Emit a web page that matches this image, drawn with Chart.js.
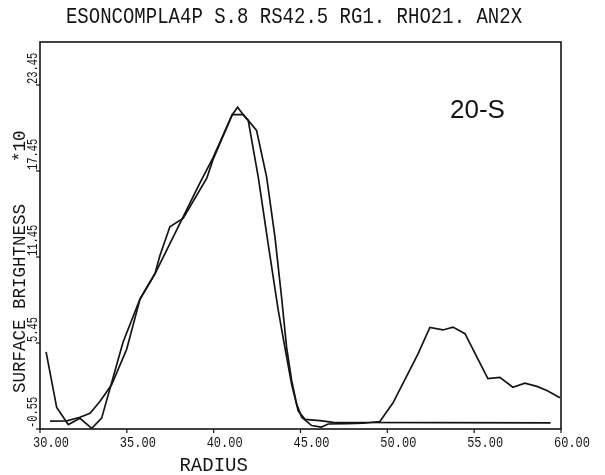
<!DOCTYPE html>
<html>
<head>
<meta charset="utf-8">
<script src="https://cdn.jsdelivr.net/npm/chart.js@4.4.0/dist/chart.umd.min.js"></script>
<style>
  html, body { margin: 0; padding: 0; background: #fff; }
  #wrap { width: 605px; height: 475px; }
</style>
</head>
<body>
<div id="wrap"><canvas id="c" width="605" height="475"></canvas></div>
<script>
// observed profile (jagged line)
var dataRadius = [30.35, 30.96, 31.63, 32.30, 32.98, 33.55, 34.78, 35.76, 36.62, 36.91, 37.48, 38.25,
    39.61, 39.96, 41.07, 41.38, 41.70, 41.99, 42.47, 43.05, 43.53, 43.91, 44.20, 44.49, 44.78, 45.07,
    45.64, 46.20, 46.60, 47.66, 48.60, 49.57, 50.32, 51.76, 52.45, 53.20, 53.78, 54.47, 55.79, 56.48,
    57.23, 57.92, 58.61, 59.19, 59.94];
var dataBright = [4.83, 0.95, -0.24, 0.20, -0.50, 0.21, 5.50, 8.52, 10.28, 11.57, 13.56, 14.16,
    16.97, 18.24, 21.38, 21.90, 21.38, 20.98, 20.28, 17.02, 12.83, 8.64, 5.14, 2.84, 1.19, 0.27,
    -0.31, -0.42, -0.20, -0.18, -0.15, -0.03, 1.26, 4.68, 6.54, 6.36, 6.56, 6.10, 2.97, 3.05,
    2.36, 2.65, 2.42, 2.13, 1.63];

// fitted model (smooth line, runs out flat to the right)
var modelRadius = [30.58, 31.54, 32.30, 32.88, 33.45, 34.13, 34.99, 35.76, 36.62, 39.21, 39.96, 41.07,
    41.70, 41.99, 42.57, 43.14, 43.72, 44.10, 44.49, 44.87, 45.26, 46.12, 46.87, 59.40];
var modelBright = [0.00, 0.02, 0.27, 0.55, 1.37, 2.55, 5.01, 8.52, 10.28, 16.62, 18.37, 21.38,
    21.38, 20.98, 17.01, 12.35, 7.72, 5.14, 2.56, 0.70, 0.12, 0.04, -0.09, -0.12];

var xTicks = [30, 35, 40, 45, 50, 55, 60];
var yTicks = [-0.55, 5.45, 11.45, 17.45, 23.45];

function pts(xs, ys) {
    return xs.map(function (v, i) { return {x: v, y: ys[i]}; });
}

var INK = '#141414';
var MONO = '"Liberation Mono", monospace';

function txt(ctx, s, x, y, font, o) {
    o = o || {};
    ctx.save();
    ctx.translate(x, y);
    if (o.rot) ctx.rotate(o.rot);
    ctx.scale(o.sx || 1, o.sy || 1);
    ctx.font = font;
    ctx.textAlign = o.align || 'left';
    ctx.textBaseline = 'alphabetic';
    ctx.fillStyle = INK;
    ctx.fillText(s, 0, 0);
    ctx.restore();
}

var decor = {
    id: 'decor',
    afterDraw: function (chart) {
        var ctx = chart.ctx, a = chart.chartArea;
        var xs = chart.scales.x, ys = chart.scales.y;
        ctx.save();
        ctx.strokeStyle = INK;
        ctx.lineWidth = 1.6;
        ctx.strokeRect(a.left, a.top, a.right - a.left, a.bottom - a.top);
        ctx.lineWidth = 1.2;
        xTicks.forEach(function (v) {
            var px = xs.getPixelForValue(v);
            ctx.beginPath();
            ctx.moveTo(px, a.bottom);
            ctx.lineTo(px, a.bottom + 4);
            ctx.stroke();
            txt(ctx, v.toFixed(2), px - 7, 447, '12px ' + MONO, {sy: 1.25});
        });
        yTicks.forEach(function (v) {
            var py = ys.getPixelForValue(v);
            ctx.beginPath();
            ctx.moveTo(a.left - 4, py);
            ctx.lineTo(a.left, py);
            ctx.stroke();
            // rotated, starts at the tick and reads upwards
            txt(ctx, v.toFixed(2), 37, py - 1, '14.5px ' + MONO, {rot: -Math.PI / 2, sx: 0.72});
        });
        ctx.restore();

        txt(ctx, 'ESONCOMPLA4P S.8 RS42.5 RG1. RHO21. AN2X', 294, 23, '19px ' + MONO, {align: 'center', sy: 1.15});
        txt(ctx, 'RADIUS', xs.getPixelForValue(40), 471, '19px ' + MONO, {align: 'center', sy: 1.1});
        txt(ctx, 'SURFACE BRIGHTNESS    *10', 25, 393, '17.5px ' + MONO, {rot: -Math.PI / 2, sy: 1.1});
        txt(ctx, '20-S', 450, 118, '26px "Liberation Sans", sans-serif');
    }
};

var ctx = document.getElementById('c').getContext('2d');
var chart = new Chart(ctx, {
    type: 'scatter',
    data: {
        datasets: [{
            label: 'observed',
            data: pts(dataRadius, dataBright),
            showLine: true,
            borderColor: INK,
            borderWidth: 1.7,
            pointRadius: 0,
            tension: 0
        }, {
            label: 'model',
            data: pts(modelRadius, modelBright),
            showLine: true,
            borderColor: INK,
            borderWidth: 1.7,
            pointRadius: 0,
            tension: 0
        }]
    },
    options: {
        responsive: false,
        animation: false,
        devicePixelRatio: 1,
        layout: {padding: {left: 40, right: 44, top: 42, bottom: 46}},
        plugins: {legend: {display: false}, title: {display: false}, tooltip: {enabled: false}},
        scales: {
            x: {
                type: 'linear', min: 30, max: 60,
                grid: {display: false, drawTicks: false},
                border: {display: false},
                ticks: {display: false},
                afterFit: function (s) { s.height = 0; }
            },
            y: {
                type: 'linear', min: -0.55, max: 26.45,
                grid: {display: false, drawTicks: false},
                border: {display: false},
                ticks: {display: false},
                afterBuildTicks: function (s) { s.ticks = yTicks.map(function (v) { return {value: v}; }); },
                afterFit: function (s) { s.width = 0; }
            }
        }
    },
    plugins: [decor]
});
</script>
</body>
</html>
